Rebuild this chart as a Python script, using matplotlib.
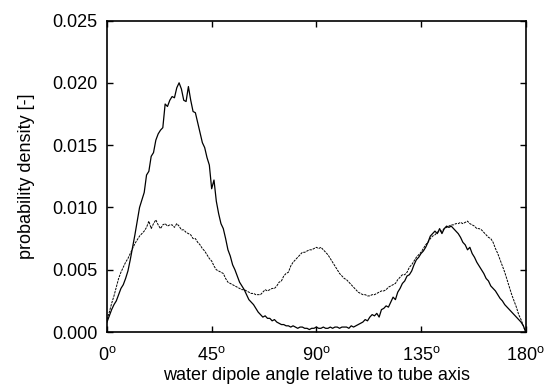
import numpy as np
import matplotlib
matplotlib.use("Agg")
import matplotlib.pyplot as plt

plt.rcParams['font.family'] = ['Liberation Sans', 'DejaVu Sans']
plt.rcParams['mathtext.fontset'] = 'custom'
plt.rcParams['mathtext.rm'] = 'Liberation Sans'

# angle in degrees, 1 degree bins
angle = np.arange(0, 181)

# probability density x 1000, solid curve
solid = [0.8, 1.3, 1.8, 2.2, 2.5, 3.0, 3.5, 3.8, 4.3, 4.9, 5.8,
         6.8, 7.8, 8.9, 10.0, 10.6, 11.2, 12.6, 12.9, 14.1, 14.4,
         15.4, 15.9, 16.2, 16.4, 18.3, 18.1, 18.6, 18.9, 18.8, 19.6,
         20.0, 19.5, 18.6, 18.5, 19.7, 18.6, 17.7, 17.6, 16.8, 16.0,
         15.2, 14.8, 14.0, 13.4, 11.5, 12.2, 10.5, 9.5, 8.7, 8.3,
         7.5, 6.6, 6.1, 5.4, 5.0, 4.5, 4.0, 3.7, 3.4, 3.0,
         2.6, 2.4, 2.2, 1.9, 1.6, 1.4, 1.2, 1.3, 1.1, 1.1,
         0.9, 1.0, 0.8, 0.7, 0.6, 0.6, 0.5, 0.5, 0.4, 0.5,
         0.4, 0.3, 0.4, 0.4, 0.3, 0.3, 0.2, 0.3, 0.3, 0.4,
         0.3, 0.3, 0.4, 0.3, 0.3, 0.4, 0.3, 0.4, 0.4, 0.3,
         0.4, 0.4, 0.4, 0.3, 0.5, 0.4, 0.5, 0.6, 0.7, 0.8,
         1.0, 0.9, 1.2, 1.4, 1.3, 1.5, 1.2, 1.8, 1.9, 2.1,
         2.0, 2.4, 2.8, 2.6, 3.2, 3.5, 3.9, 4.1, 4.5, 4.6,
         4.9, 5.4, 5.8, 6.0, 6.3, 6.5, 6.8, 7.2, 7.7, 7.9,
         8.1, 7.9, 8.3, 7.9, 8.3, 8.5, 8.4, 8.5, 8.3, 8.1,
         7.9, 7.6, 7.2, 7.0, 6.6, 6.8, 6.3, 6.0, 5.6, 5.3,
         5.0, 4.7, 4.3, 4.1, 3.7, 3.5, 3.3, 3.0, 2.7, 2.5,
         2.2, 2.0, 1.8, 1.6, 1.4, 1.2, 1.0, 0.8, 0.5, 0.0]

# probability density x 1000, dashed curve
dashed = [1.0, 1.6, 2.3, 2.9, 3.6, 4.3, 4.8, 5.2, 5.6, 5.9, 6.3,
          6.7, 7.1, 7.4, 7.7, 7.9, 8.1, 8.4, 8.9, 8.3, 8.7,
          9.0, 8.6, 8.3, 8.6, 8.7, 8.5, 8.6, 8.6, 8.4, 8.7,
          8.5, 8.2, 8.2, 8.0, 7.9, 7.8, 7.5, 7.5, 7.2, 7.0,
          6.7, 6.5, 6.2, 5.9, 5.7, 5.3, 5.0, 4.9, 4.8, 4.7,
          4.3, 4.0, 3.9, 3.8, 3.7, 3.6, 3.5, 3.4, 3.4, 3.3,
          3.2, 3.1, 3.1, 3.0, 3.0, 3.0, 3.2, 3.4, 3.3, 3.4,
          3.5, 3.5, 3.7, 4.0, 4.1, 4.5, 4.7, 4.8, 5.3, 5.6,
          5.8, 6.0, 6.2, 6.4, 6.4, 6.5, 6.6, 6.6, 6.7, 6.8,
          6.7, 6.8, 6.6, 6.4, 6.2, 5.9, 5.6, 5.3, 5.0, 4.7,
          4.5, 4.3, 4.2, 4.0, 3.8, 3.6, 3.4, 3.2, 3.1, 3.0,
          3.0, 2.9, 2.9, 3.0, 3.0, 3.1, 3.2, 3.3, 3.3, 3.4,
          3.6, 3.7, 3.8, 3.9, 4.2, 4.4, 4.6, 4.6, 4.8, 5.2,
          5.4, 5.7, 6.0, 6.2, 6.4, 6.7, 7.0, 7.2, 7.5, 7.7,
          7.8, 8.0, 8.1, 8.1, 8.3, 8.4, 8.5, 8.6, 8.6, 8.7,
          8.7, 8.8, 8.7, 8.8, 8.9, 8.7, 8.6, 8.5, 8.3, 8.3,
          8.2, 8.0, 7.8, 7.6, 7.5, 7.2, 6.7, 6.3, 5.8, 5.3,
          4.8, 4.2, 3.6, 3.0, 2.5, 2.0, 1.4, 1.0, 0.5, 0.0]

xticks = [0, 45, 90, 135, 180]
yticks = [0.0, 0.005, 0.010, 0.015, 0.020, 0.025]

fig = plt.figure(figsize=(5.47, 3.87), dpi=100)
ax = fig.add_axes([0.1956, 0.142, 0.7654, 0.805])

ax.plot(angle, np.array(solid) / 1000, color='black', lw=0.9)
ax.plot(angle, np.array(dashed) / 1000, color='black', lw=0.7, dashes=(2.5, 1))

ax.set_xlim(0, 180)
ax.set_ylim(0, 0.025)
ax.set_xticks(xticks)
ax.set_xticklabels([r'$\mathrm{%d^o}$' % t for t in xticks])
ax.set_yticks(yticks)
ax.set_yticklabels(['%.3f' % v for v in yticks])
ax.tick_params(direction='in', length=4, width=1, top=True, right=True,
               labelsize=13)
ax.tick_params(axis='x', pad=10)
ax.tick_params(axis='y', pad=7)
for s in ax.spines.values():
    s.set_linewidth(1.2)

ax.set_xlabel('water dipole angle relative to tube axis', fontsize=13, labelpad=2.5)
ax.set_ylabel('probability density [-]', fontsize=13, labelpad=12)

fig.savefig('out.png', dpi=100)
